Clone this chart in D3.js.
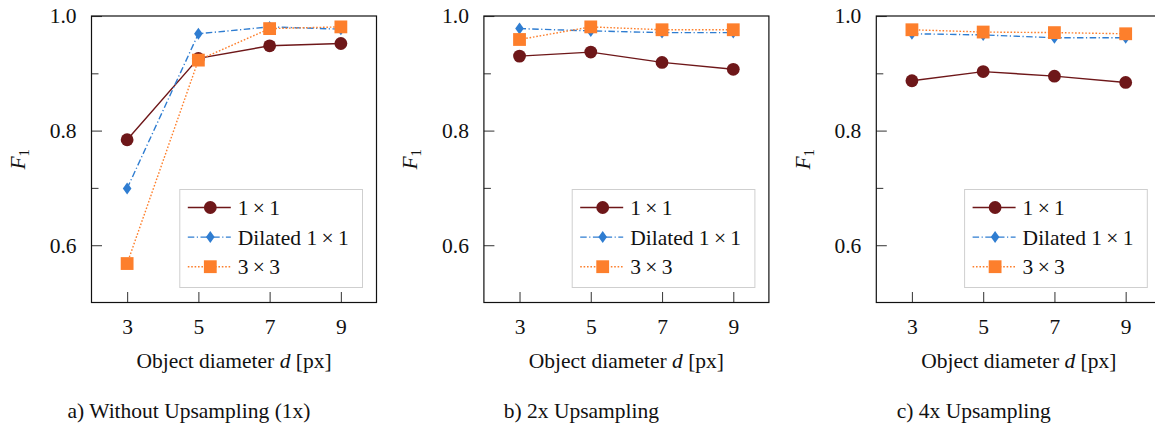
<!DOCTYPE html>
<html>
<head>
<meta charset="utf-8">
<script src="https://cdn.jsdelivr.net/npm/d3@7"></script>
<style>
	body { margin: 0; background: #fff; }
</style>
</head>
<body>
<div id="chart"></div>
<script>
// data
const diameters = [3, 5, 7, 9];
const panelCaptions = ["a) Without Upsampling (1x)", "b) 2x Upsampling", "c) 4x Upsampling"];
const seriesNames = ["1\u2009×\u20091", "Dilated 1\u2009×\u20091", "3\u2009×\u20093"];

// one row per panel (1x, 2x, 4x), values per diameter 3,5,7,9
const conv1x1 = [
	[0.784, 0.926, 0.948, 0.952],
	[0.930, 0.937, 0.919, 0.907],
	[0.887, 0.903, 0.895, 0.884]
];
const dilated1x1 = [
	[0.699, 0.969, 0.981, 0.977],
	[0.978, 0.974, 0.971, 0.971],
	[0.969, 0.967, 0.962, 0.962]
];
const conv3x3 = [
	[0.568, 0.923, 0.978, 0.981],
	[0.959, 0.981, 0.976, 0.976],
	[0.976, 0.972, 0.971, 0.969]
];

const yMajorTicks = [0.6, 0.8, 1.0];
const yMinorTicks = [0.7, 0.9];

const seriesStyle = [
	{ color: '#6e1719', dash: null, marker: 'circle' },
	{ color: '#2f7dd1', dash: '6.5,2.5,1.2,2.5', marker: 'diamond' },
	{ color: '#fd7f2c', dash: '1.6,1.8', marker: 'square' }
];

const FONT = '"Liberation Serif"';
const FS = 21.5;
const TXT = '#111';

const W = 1155, H = 425;
const panelStep = 392.4;
const plotLeft = 91.5, plotTop = 16;
const plotW = 285, plotH = 286.5;

const svg = d3.select('#chart').append('svg')
	.attr('width', W)
	.attr('height', H);

svg.append('rect').attr('width', W).attr('height', H).attr('fill', '#fff');

const x = d3.scaleLinear().domain([2, 10]).range([0, plotW]);
const y = d3.scaleLinear().domain([0.5, 1.0]).range([plotH, 0]);

function drawMarker(g, type, cx, cy, color) {
	if (type == 'circle') {
		g.append('circle').attr('cx', cx).attr('cy', cy).attr('r', 6.4).attr('fill', color);
	}
	else if (type == 'diamond') {
		g.append('path')
			.attr('d', `M${cx},${cy - 6} L${cx + 4.3},${cy} L${cx},${cy + 6} L${cx - 4.3},${cy} Z`)
			.attr('fill', color);
	}
	else {
		g.append('rect').attr('x', cx - 6.4).attr('y', cy - 6.4)
			.attr('width', 12.8).attr('height', 12.8).attr('fill', color);
	}
}

// plain text helper, font set as inline style on every text
function addText(parent) {
	return parent.append('text')
		.style('font-family', FONT)
		.style('font-size', FS + 'px')
		.attr('fill', TXT);
}

// d3 axes put their own font on the group, so restyle after the call
function styleAxis(sel) {
	sel.attr('font-family', null).attr('font-size', null);
	sel.select('.domain').remove();
	sel.selectAll('.tick line').attr('stroke', '#444').attr('stroke-width', 1.1);
	sel.selectAll('.tick text')
		.attr('fill', TXT)
		.style('font-family', FONT)
		.style('font-size', FS + 'px');
}

for (let p = 0; p < 3; p++) {
	const offset = p * panelStep;
	const g = svg.append('g').attr('transform', `translate(${offset + plotLeft},${plotTop})`);

	// minor ticks on y
	g.append('g')
		.call(d3.axisLeft(y).tickValues(yMinorTicks).tickSize(-7).tickFormat(''))
		.call(styleAxis);

	// major ticks on y
	g.append('g')
		.call(d3.axisLeft(y).tickValues(yMajorTicks).tickSize(-10.5).tickPadding(15)
			.tickFormat(d3.format('.1f')))
		.call(styleAxis);

	// x axis
	g.append('g')
		.attr('transform', `translate(0,${plotH})`)
		.call(d3.axisBottom(x).tickValues(diameters).tickSize(-10.5).tickPadding(16)
			.tickFormat(d3.format('d')))
		.call(styleAxis);

	// frame
	g.append('rect')
		.attr('x', 0).attr('y', 0)
		.attr('width', plotW).attr('height', plotH)
		.attr('fill', 'none')
		.attr('stroke', '#111')
		.attr('stroke-width', 1.2);

	const allSeries = [conv1x1[p], dilated1x1[p], conv3x3[p]];

	const line = d3.line()
		.x((d, i) => x(diameters[i]))
		.y(d => y(d));

	allSeries.forEach((vals, s) => {
		const st = seriesStyle[s];
		g.append('path')
			.datum(vals)
			.attr('d', line)
			.attr('fill', 'none')
			.attr('stroke', st.color)
			.attr('stroke-width', 1.4)
			.attr('stroke-dasharray', st.dash);
		vals.forEach((v, i) => drawMarker(g, st.marker, x(diameters[i]), y(v), st.color));
	});

	// legend
	const legW = 182.7, legH = 98;
	const leg = g.append('g')
		.attr('transform', `translate(${plotW - 14 - legW},${plotH - 15 - legH})`);
	leg.append('rect')
		.attr('width', legW).attr('height', legH)
		.attr('fill', '#fff')
		.attr('stroke', '#cfcfcf')
		.attr('stroke-width', 1);

	seriesNames.forEach((name, s) => {
		const st = seriesStyle[s];
		const ly = 18 + s * 29.6;
		leg.append('line')
			.attr('x1', 8).attr('x2', 51)
			.attr('y1', ly).attr('y2', ly)
			.attr('stroke', st.color)
			.attr('stroke-width', 1.4)
			.attr('stroke-dasharray', st.dash);
		drawMarker(leg, st.marker, 30.5, ly, st.color);
		addText(leg)
			.attr('x', 58).attr('y', ly)
			.attr('dy', '0.35em')
			.text(name);
	});

	// y label F_1
	const yl = addText(svg)
		.attr('transform', `translate(${offset + 25},${plotTop + plotH / 2}) rotate(-90)`)
		.attr('text-anchor', 'middle');
	yl.append('tspan').style('font-style', 'italic').text('F');
	yl.append('tspan').style('font-size', '15px').attr('dy', 4).text('1');

	// x label
	const xl = addText(svg)
		.attr('x', offset + plotLeft + plotW / 2)
		.attr('y', 368)
		.attr('text-anchor', 'middle');
	xl.append('tspan').text('Object diameter ');
	xl.append('tspan').style('font-style', 'italic').text('d');
	xl.append('tspan').text(' [px]');

	// caption
	addText(svg)
		.attr('x', offset + 189)
		.attr('y', 418)
		.attr('text-anchor', 'middle')
		.text(panelCaptions[p]);
}
</script>
</body>
</html>
